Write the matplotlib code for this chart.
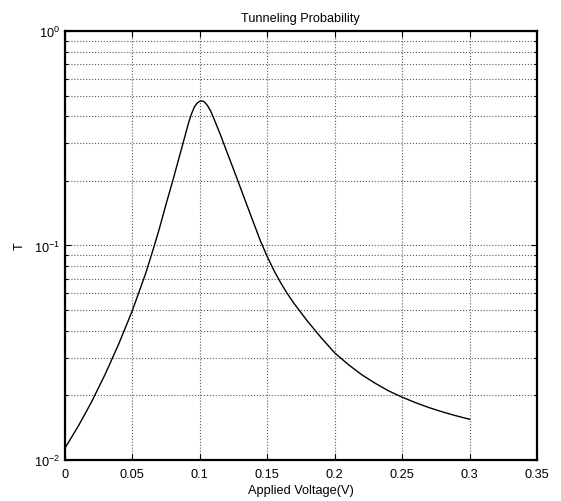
import matplotlib
matplotlib.use('Agg')
import matplotlib.pyplot as plt
from matplotlib.ticker import LogLocator, NullFormatter

plt.rcParams['font.family'] = ['Liberation Sans', 'DejaVu Sans']
plt.rcParams['mathtext.fontset'] = 'custom'
plt.rcParams['mathtext.rm'] = 'Liberation Sans'
plt.rcParams['mathtext.default'] = 'regular'

# values
voltage = [0.0, 0.005, 0.01, 0.015, 0.02, 0.025, 0.03, 0.035, 0.04, 0.045,
           0.05, 0.055, 0.06, 0.065, 0.07, 0.075, 0.08, 0.085, 0.09, 0.092,
           0.094, 0.096, 0.098, 0.1, 0.1015, 0.103, 0.1045, 0.106, 0.108,
           0.11, 0.115, 0.12, 0.125, 0.13, 0.135, 0.14, 0.145, 0.15, 0.155,
           0.16, 0.165, 0.17, 0.18, 0.19, 0.2, 0.21, 0.22, 0.23, 0.24, 0.25,
           0.26, 0.27, 0.28, 0.29, 0.3]
trans = [0.0113, 0.01274, 0.01436, 0.01637, 0.0187, 0.02168, 0.0251, 0.0295,
         0.0347, 0.0414, 0.0495, 0.0605, 0.0741, 0.0933, 0.1189, 0.1549,
         0.1995, 0.26, 0.339, 0.377, 0.411, 0.441, 0.46, 0.47, 0.472, 0.469,
         0.46, 0.447, 0.4256, 0.398, 0.333, 0.275, 0.2275, 0.1875, 0.1545,
         0.1274, 0.1052, 0.089, 0.0766, 0.0671, 0.0596, 0.0536, 0.0443,
         0.0372, 0.0316, 0.0279, 0.025, 0.0228, 0.021, 0.01963, 0.0185,
         0.01754, 0.01675, 0.01607, 0.01549]

xticks = [0, 0.05, 0.1, 0.15, 0.2, 0.25, 0.3, 0.35]
xticklabels = ['0', '0.05', '0.1', '0.15', '0.2', '0.25', '0.3', '0.35']

fig = plt.figure(figsize=(5.61, 5.02), dpi=100)
ax = fig.add_axes([0.1153, 0.0817, 0.842, 0.8546])

ax.semilogy(voltage, trans, color='black', linewidth=1.0)

ax.set_xlim(0, 0.35)
ax.set_ylim(1e-2, 1e0)
ax.set_xticks(xticks)
ax.set_xticklabels(xticklabels)
ax.yaxis.set_major_locator(LogLocator(base=10))
ax.yaxis.set_minor_locator(LogLocator(base=10, subs=range(2, 10)))
ax.yaxis.set_minor_formatter(NullFormatter())

ax.grid(True, which='major', axis='both', linestyle=':', color='0.35', linewidth=0.8)
ax.grid(True, which='minor', axis='y', linestyle=':', color='0.35', linewidth=0.8)

ax.tick_params(which='both', direction='in', top=True, right=True,
               labelsize=9.2, width=0.8, color='black')
ax.tick_params(which='major', length=4)
ax.tick_params(which='minor', length=2.5)
ax.tick_params(axis='x', pad=6)
for s in ax.spines.values():
    s.set_linewidth(1.6)

ax.set_title('Tunneling Probability', fontsize=9.2, pad=7)
ax.set_xlabel('Applied Voltage(V)', fontsize=9.2, labelpad=3)
ax.set_ylabel('T', fontsize=9.2, labelpad=6)

fig.savefig('out.png', dpi=100)
